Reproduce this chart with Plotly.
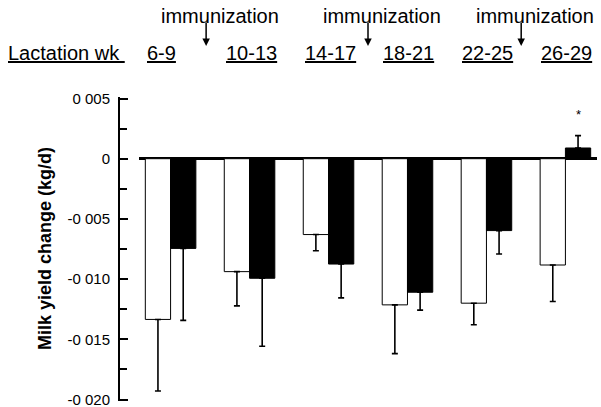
import plotly.graph_objects as go

# ---- data ----
weeks = ["6-9", "10-13", "14-17", "18-21", "22-25", "26-29"]
control_vals = [-0.01335, -0.00938, -0.00630, -0.01214, -0.01200, -0.00883]
control_err = [0.00595, 0.00284, 0.00135, 0.00405, 0.00179, 0.00303]
immunized_vals = [-0.00745, -0.00993, -0.00875, -0.01109, -0.00597, 0.00089]
immunized_err = [0.00598, 0.00565, 0.00281, 0.00149, 0.00195, 0.00103]
immunization_pos = [0.45, 2.5, 4.44]   # between lactation-week groups
y_tickvals = [0.005, 0.0, -0.005, -0.010, -0.015, -0.020]
y_ticktext = ["0 005", "0", "-0 005", "-0 010", "-0 015", "-0 020"]
y_minor = [0.0025, -0.0025, -0.0075, -0.0125, -0.0175]

W, H = 601, 407
FONT = "Liberation Sans, Arial, sans-serif"


def err_dirs(vals, errs):
    up = [e if v > 0 else 0 for v, e in zip(vals, errs)]
    down = [e if v <= 0 else 0 for v, e in zip(vals, errs)]
    return up, down


cu, cd = err_dirs(control_vals, control_err)
iu, idn = err_dirs(immunized_vals, immunized_err)

fig = go.Figure()
fig.add_trace(go.Bar(
    x=weeks, y=control_vals, name="control",
    marker=dict(color="white", line=dict(color="black", width=1)),
    error_y=dict(type="data", symmetric=False, array=cu, arrayminus=cd,
                 color="black", thickness=1.6, width=3),
))
fig.add_trace(go.Bar(
    x=weeks, y=immunized_vals, name="immunized",
    marker=dict(color="black", line=dict(color="black", width=1)),
    error_y=dict(type="data", symmetric=False, array=iu, arrayminus=idn,
                 color="black", thickness=1.6, width=3),
))

annotations = []
# y-axis title
annotations.append(dict(
    text="<b>Milk yield change (kg/d)</b>", x=45 / W, y=1 - 249 / H,
    xref="paper", yref="paper", textangle=-90, showarrow=False,
    font=dict(family=FONT, size=18, color="black"),
    xanchor="center", yanchor="middle"))
# Lactation wk row
annotations.append(dict(
    text="<u>Lactation wk\u00a0</u>", x=6 / W, y=1 - 53 / H,
    xref="paper", yref="paper", showarrow=False, xanchor="left",
    yanchor="middle", font=dict(family=FONT, size=20, color="black")))
for w in weeks:
    annotations.append(dict(
        text="<u>" + w + "</u>", x=w, y=1 - 53 / H, xref="x", yref="paper",
        xshift=-26, showarrow=False, xanchor="left", yanchor="middle",
        font=dict(family=FONT, size=20, color="black")))
# immunization arrows + labels
for p in immunization_pos:
    annotations.append(dict(
        text="", x=p, y=1 - 46 / H, xref="x", yref="paper",
        showarrow=True, ax=0, ay=-25, arrowhead=2, arrowsize=1,
        arrowwidth=1.5, arrowcolor="black"))
    annotations.append(dict(
        text="immunization", x=p, y=1 - 16 / H, xref="x", yref="paper",
        xshift=14, showarrow=False, xanchor="center", yanchor="middle",
        font=dict(family=FONT, size=20, color="black")))
# significance star
annotations.append(dict(
    text="*", x=weeks[-1], y=immunized_vals[-1] + immunized_err[-1],
    xref="x", yref="y", xshift=13, yshift=12, showarrow=False,
    xanchor="center", yanchor="bottom",
    font=dict(family=FONT, size=13, color="black")))

fig.update_layout(
    width=W, height=H, autosize=False,
    margin=dict(l=0, r=0, t=0, b=0),
    paper_bgcolor="white", plot_bgcolor="white",
    showlegend=False,
    barmode="group", bargap=0.36, bargroupgap=0.0,
    font=dict(family=FONT, color="black"),
    annotations=annotations,
    xaxis=dict(domain=[139 / W, 597 / W], range=[-0.40, 5.40],
               showticklabels=False, ticks="", showline=False,
               showgrid=False, zeroline=False, fixedrange=True),
    yaxis=dict(domain=[1 - 400.7 / H, 1 - 97.3 / H], range=[-0.0201, 0.0051],
               anchor="free", position=119 / W,
               tickvals=y_tickvals, ticktext=y_ticktext,
               ticks="inside", ticklen=8, tickwidth=1.5, tickcolor="black",
               showline=True, linewidth=2, linecolor="black",
               showgrid=False, zeroline=True, zerolinecolor="black",
               zerolinewidth=2.5,
               ticklabelstandoff=5, ticklabeloverflow="allow",
               tickfont=dict(family=FONT, size=15, color="black"),
               minor=dict(tickvals=y_minor, ticks="inside", ticklen=7,
                          tickwidth=1.5, tickcolor="black"),
               automargin=False),
)

fig.write_html("out.html")
